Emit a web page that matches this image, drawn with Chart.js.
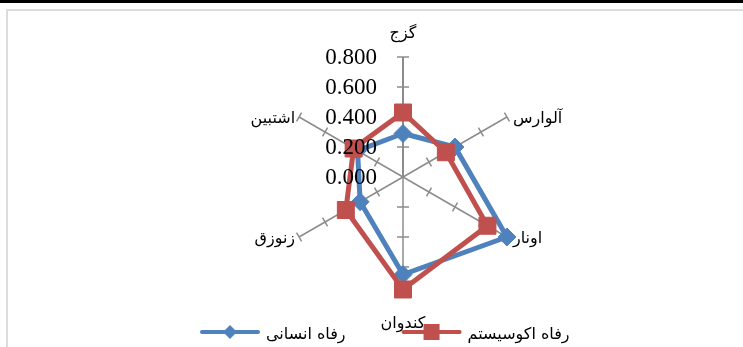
<!DOCTYPE html>
<html>
<head>
<meta charset="utf-8">
<script src="https://cdn.jsdelivr.net/npm/chart.js@4"></script>
<style>
body { margin: 0; background: #fff; }
#wrap { position: relative; width: 743px; height: 347px; overflow: hidden; }
#topbar { position: absolute; left: 0; top: 0; width: 743px; height: 3px; background: #000; }
#frame { position: absolute; left: 6px; top: 9px; width: 800px; height: 400px; border: 2px solid #dcdcdc; }
canvas { position: absolute; left: 0; top: 0; }
</style>
</head>
<body>
<div id="wrap">
  <div id="topbar"></div>
  <div id="frame"></div>
  <canvas id="radarChart" width="743" height="347"></canvas>
</div>
<script>
"use strict"

//Data
const categories = ["گزج", "آلوارس", "اونار", "کندوان", "زنوزق", "اشتبین"];
const seriesNames = ["رفاه انسانی", "رفاه اکوسیستم"];
const humanWelfare = [0.29, 0.40, 0.80, 0.65, 0.33, 0.35];
const ecoWelfare = [0.43, 0.33, 0.65, 0.75, 0.44, 0.38];
const tickValues = [0, 0.2, 0.4, 0.6, 0.8];

const blue = "#4F81BD";
const red = "#C0504D";
const axisGrey = "#8c8c8c";
const labelFont = "16px 'DejaVu Sans'";
const tickFont = "23px 'Liberation Serif'";

/*---------------------------------*/

//plugin: place the scale, draw spoke ticks, labels and legend
const radarExtras = {
    id: 'radarExtras',
    afterLayout(chart) {
        const r = chart.scales.r;
        r.xCenter = 403;
        r.yCenter = 177;
        r.drawingArea = 120;
    },
    beforeDatasetsDraw(chart) {
        const r = chart.scales.r;
        const ctx = chart.ctx;
        ctx.save();
        ctx.strokeStyle = axisGrey;
        ctx.lineWidth = 1.5;
        for (let i = 0; i < categories.length; i++) {
            const a = r.getIndexAngle(i) - Math.PI / 2;
            const nx = -Math.sin(a);
            const ny = Math.cos(a);
            const len = i === 0 || i === 3 ? 6 : 5;
            tickValues.forEach(v => {
                if (v === 0) return;
                const p = r.getPointPosition(i, r.getDistanceFromCenterForValue(v));
                ctx.beginPath();
                ctx.moveTo(p.x - nx * len, p.y - ny * len);
                ctx.lineTo(p.x + nx * len, p.y + ny * len);
                ctx.stroke();
            });
        }
        //value axis a bit heavier
        const top = r.getPointPosition(0, r.drawingArea);
        ctx.lineWidth = 2;
        ctx.beginPath();
        ctx.moveTo(r.xCenter, r.yCenter);
        ctx.lineTo(top.x, top.y);
        ctx.stroke();
        ctx.restore();
    },
    afterDraw(chart) {
        const r = chart.scales.r;
        const ctx = chart.ctx;
        ctx.save();

        //tick labels
        ctx.fillStyle = "#000";
        ctx.font = tickFont;
        ctx.textAlign = "right";
        ctx.textBaseline = "middle";
        tickValues.forEach(v => {
            const y = r.yCenter - r.getDistanceFromCenterForValue(v);
            ctx.fillText(v.toFixed(3), r.xCenter - 26, y + 1);
        });

        //category labels
        ctx.font = labelFont;
        categories.forEach((label, i) => {
            const p = r.getPointPosition(i, r.drawingArea);
            const dx = p.x - r.xCenter;
            if (Math.abs(dx) < 1) {
                ctx.textAlign = "center";
                ctx.fillText(label, p.x, p.y < r.yCenter ? p.y - 23 : p.y + 27);
            } else {
                ctx.textAlign = dx > 0 ? "left" : "right";
                ctx.fillText(label, p.x + (dx > 0 ? 6 : -4), p.y + 2);
            }
        });

        //legend
        let x = 202;
        const y = 332;
        chart.data.datasets.forEach(ds => {
            ctx.strokeStyle = ds.borderColor;
            ctx.lineWidth = 4;
            ctx.lineCap = "round";
            ctx.beginPath();
            ctx.moveTo(x, y);
            ctx.lineTo(x + 56, y);
            ctx.stroke();
            ctx.fillStyle = ds.borderColor;
            ctx.beginPath();
            if (ds.pointStyle === "rect") {
                ctx.rect(x + 20, y - 8, 16, 16);
            } else {
                ctx.moveTo(x + 28, y - 7);
                ctx.lineTo(x + 35, y);
                ctx.lineTo(x + 28, y + 7);
                ctx.lineTo(x + 21, y);
                ctx.closePath();
            }
            ctx.fill();
            ctx.fillStyle = "#000";
            ctx.font = labelFont;
            ctx.textAlign = "left";
            ctx.fillText(ds.label, x + 64, y + 3);
            x += 64 + ctx.measureText(ds.label).width + 58;
        });
        ctx.restore();
    }
};

/*---------------------------------*/

//radardiagram
const canvas = document.getElementById('radarChart');
const ctx = canvas.getContext('2d');

new Chart(ctx, {
    type: 'radar',
    data: {
        labels: categories,
        datasets: [{
            label: seriesNames[0],
            data: humanWelfare,
            borderColor: blue,
            backgroundColor: blue,
            borderWidth: 5,
            fill: false,
            pointStyle: 'rectRot',
            pointRadius: 9,
            pointBorderWidth: 1,
            pointBackgroundColor: blue,
            order: 1
        }, {
            label: seriesNames[1],
            data: ecoWelfare,
            borderColor: red,
            backgroundColor: red,
            borderWidth: 5,
            fill: false,
            pointStyle: 'rect',
            pointRadius: 12,
            pointBorderWidth: 1,
            pointBackgroundColor: red,
            order: 0
        }]
    },
    options: {
        responsive: false,
        animation: false,
        plugins: {
            legend: { display: false },
            tooltip: { enabled: false }
        },
        scales: {
            r: {
                min: 0,
                max: 0.8,
                ticks: { stepSize: 0.2, display: false },
                grid: { display: false },
                pointLabels: { display: false },
                angleLines: { color: axisGrey, lineWidth: 1.5 }
            }
        }
    },
    plugins: [radarExtras]
});
</script>
</body>
</html>
